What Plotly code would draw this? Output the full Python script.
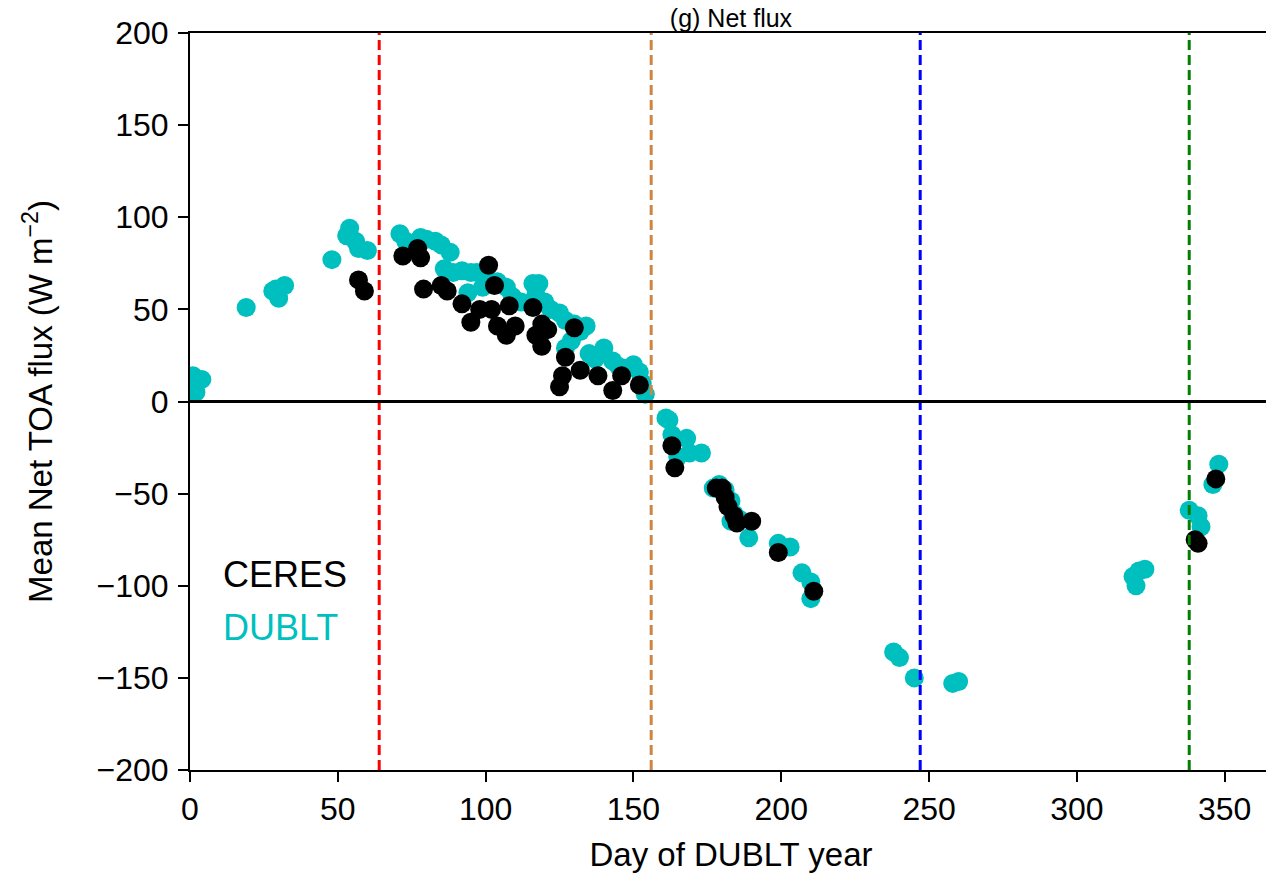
import plotly.graph_objects as go

# DUBLT model points (day, net TOA flux)
dublt_day = [1, 2, 4, 19, 28, 29, 30, 32, 48, 53, 54, 56, 57, 60,
             71, 73, 76, 78, 80, 83, 85, 88, 86, 89, 92, 95, 97, 100, 94, 99, 101, 104, 107,
             109, 112, 116, 118, 117, 120, 122, 125, 127, 130, 132, 134, 127, 129, 135, 137,
             140, 143, 145, 147, 150, 152, 153, 154,
             161, 162, 163, 165, 168, 169, 173, 177, 179, 181, 183, 184, 183, 186, 189,
             199, 203, 207, 210, 210,
             238, 240, 245, 258, 260, 319, 320, 321, 323, 338, 341, 342, 346, 348]
dublt_flux = [14, 5, 12, 51, 60, 61, 56, 63, 77, 90, 94, 87, 83, 82,
              91, 87, 86, 89, 88, 87, 85, 81, 72, 70, 71, 70, 70, 68, 59, 62, 66, 65, 62,
              57, 54, 64, 64, 58, 54, 50, 48, 44, 42, 38, 41, 29, 33, 26, 23,
              29, 22, 19, 18, 20, 16, 10, 4,
              -9, -10, -18, -30, -20, -28, -28, -47, -45, -48, -54, -61, -65, -64, -74,
              -77, -79, -93, -98, -107,
              -136, -139, -150, -153, -152, -95, -100, -92, -91, -59, -62, -68, -45, -34]

# CERES observations
ceres_day = [57, 59, 72, 77, 78, 79, 85, 87, 92, 95, 98, 101, 103, 102, 104, 107, 108,
             110, 116, 117, 119, 119, 121, 130, 127, 132, 126, 125, 138, 143, 146, 152,
             163, 164, 178, 180, 181, 182, 184, 185, 190, 199, 211, 340, 341, 347]
ceres_flux = [66, 60, 79, 83, 78, 61, 63, 60, 53, 43, 50, 74, 63, 50, 41, 36, 52,
              41, 51, 36, 42, 30, 39, 40, 24, 17, 14, 8, 14, 6, 14, 9,
              -24, -36, -47, -47, -52, -57, -62, -66, -65, -82, -103, -75, -77, -42]

# season marker days and colours
season_days = [64, 156, 247, 338]
season_colors = ["#ff0000", "#cd853f", "#0000ff", "#008000"]

FONT = "Liberation Sans, Arial, sans-serif"
CYAN = "#00bfbf"

fig = go.Figure()

fig.add_trace(go.Scatter(
    x=dublt_day, y=dublt_flux, mode="markers", name="DUBLT",
    marker=dict(color=CYAN, size=19, line=dict(width=0))
))
fig.add_trace(go.Scatter(
    x=ceres_day, y=ceres_flux, mode="markers", name="CERES",
    marker=dict(color="black", size=19, line=dict(width=0))
))

for d, c in zip(season_days, season_colors):
    fig.add_shape(type="line", x0=d, x1=d, y0=0, y1=1, xref="x", yref="paper",
                  line=dict(color=c, width=3, dash="10px,5px"))

fig.add_shape(type="line", x0=0, x1=1, y0=0, y1=0, xref="paper", yref="y",
              line=dict(color="black", width=3))

fig.add_annotation(text="CERES", x=0.029, y=0.265, xref="paper", yref="paper",
                   xanchor="left", yanchor="middle", showarrow=False,
                   font=dict(family=FONT, size=36, color="black"))
fig.add_annotation(text="DUBLT", x=0.029, y=0.193, xref="paper", yref="paper",
                   xanchor="left", yanchor="middle", showarrow=False,
                   font=dict(family=FONT, size=36, color=CYAN))

# page body has an 8px margin, so the figure is sized to the rest of the window
fig.update_layout(
    width=1266, height=867,
    margin=dict(l=182, r=2, t=25, b=105),
    paper_bgcolor="white", plot_bgcolor="white",
    showlegend=False,
    font=dict(family=FONT, size=32, color="black"),
    title=dict(text="(g) Net flux", x=0.5, xref="paper", xanchor="center",
               y=0.998, yref="container", yanchor="top", pad=dict(t=0),
               font=dict(family=FONT, size=25, color="black")),
)
fig.update_xaxes(
    range=[0, 366], tickvals=[0, 50, 100, 150, 200, 250, 300, 350],
    ticks="outside", ticklen=10, tickwidth=2, tickcolor="black",
    tickfont=dict(family=FONT, size=32), ticklabelstandoff=0,
    showline=True, linecolor="black", linewidth=2, mirror=True,
    showgrid=False, zeroline=False, automargin=False,
    title=dict(text="Day of DUBLT year", standoff=16, font=dict(family=FONT, size=33)),
)
fig.update_yaxes(
    range=[-200, 200], tickvals=[-200, -150, -100, -50, 0, 50, 100, 150, 200],
    ticks="outside", ticklen=10, tickwidth=2, tickcolor="black",
    tickfont=dict(family=FONT, size=32), ticklabelstandoff=3,
    showline=True, linecolor="black", linewidth=2, mirror=True,
    showgrid=False, zeroline=False, automargin=False,
    title=dict(text="Mean Net TOA flux (W m<sup>−2</sup>)", standoff=34,
               font=dict(family=FONT, size=33)),
)

fig.write_html("out.html")
